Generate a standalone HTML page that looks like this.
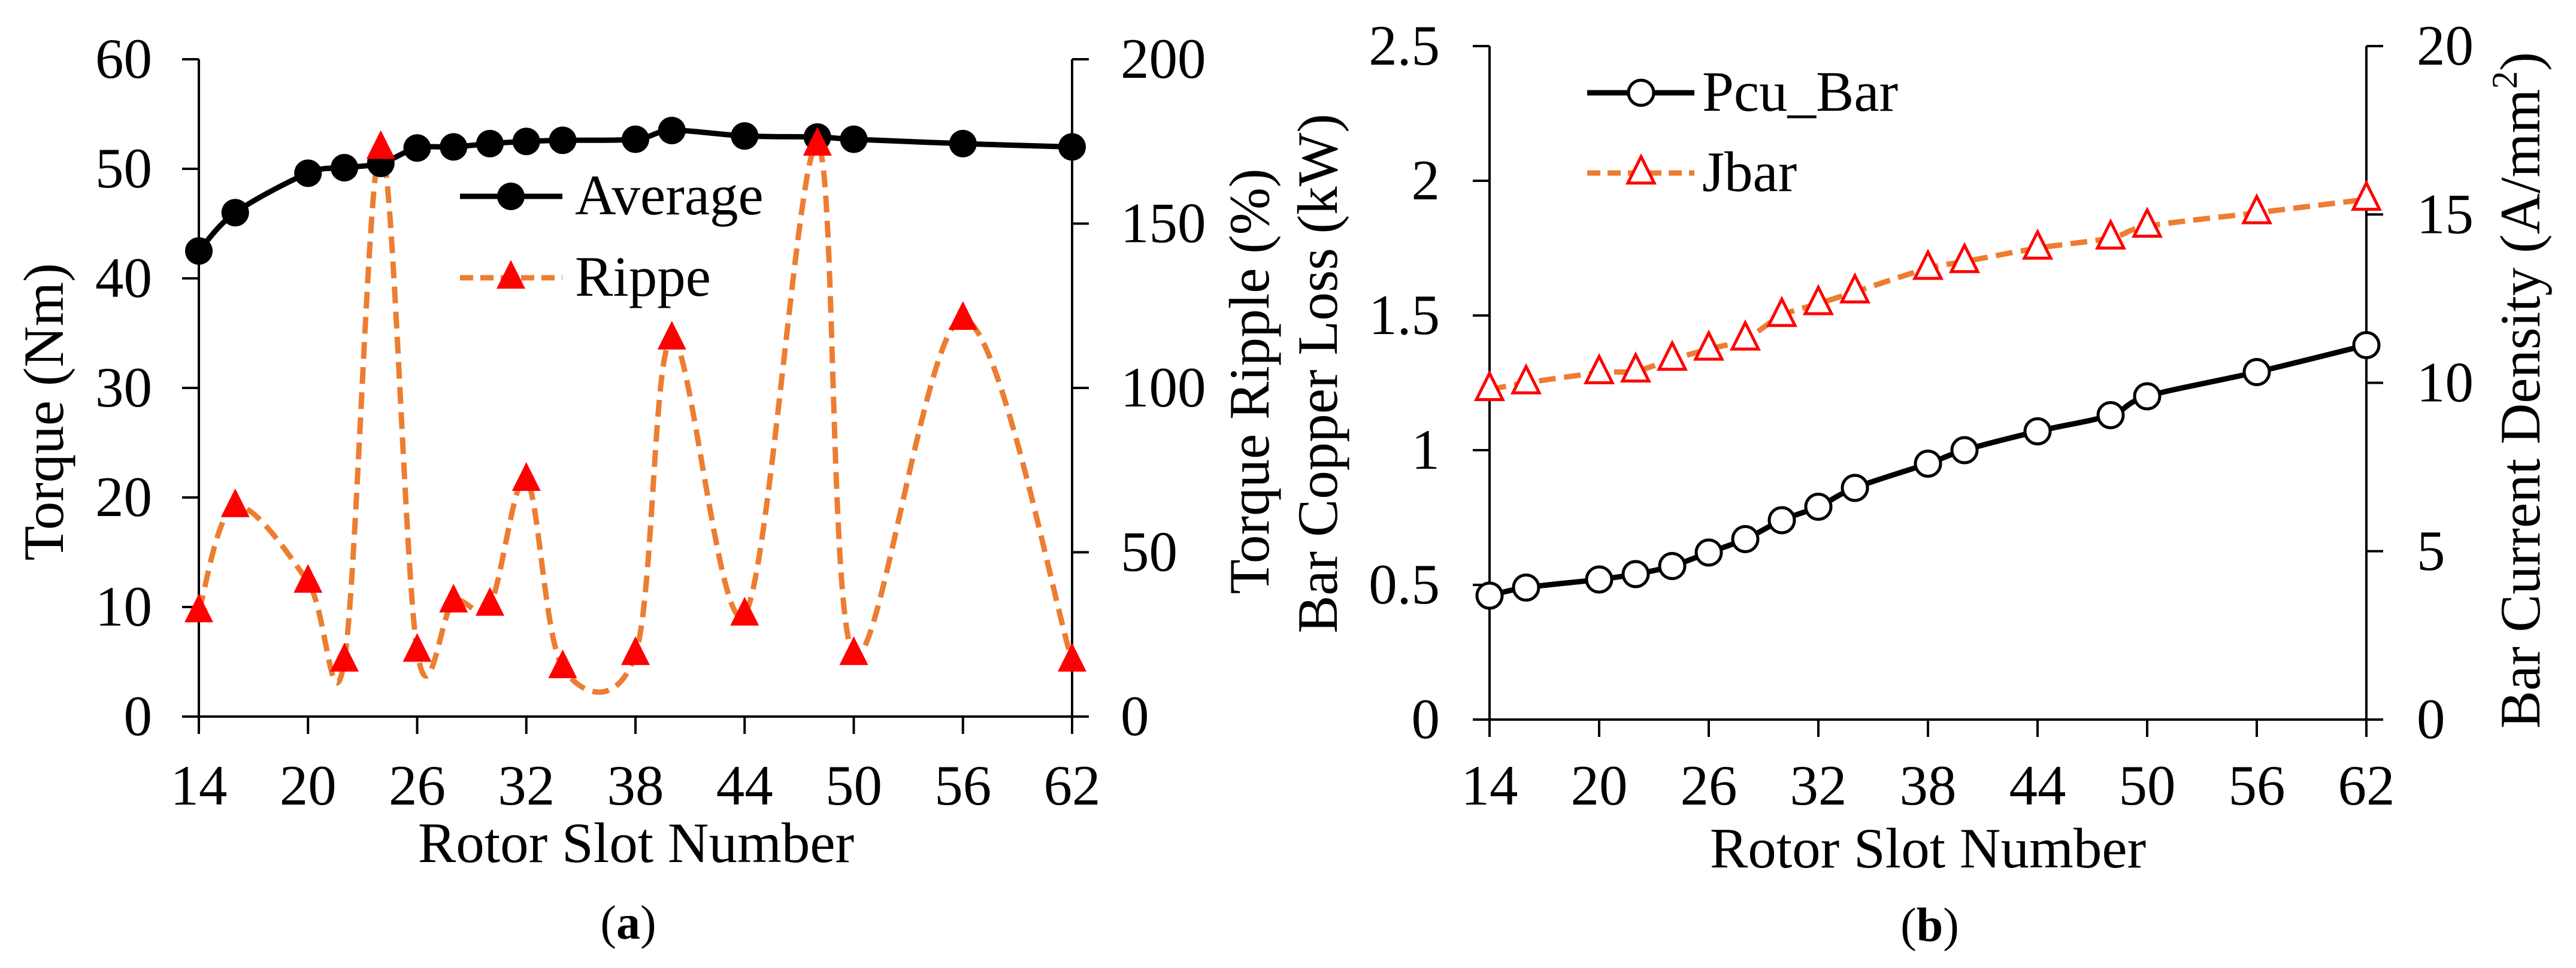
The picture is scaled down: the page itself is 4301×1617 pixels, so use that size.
<!DOCTYPE html>
<html><head><meta charset="utf-8"><style>
html,body{margin:0;padding:0;background:#fff}
svg{display:block;font-family:"Liberation Serif",serif}
svg text,svg tspan{font-family:"Liberation Serif",serif;fill:#000}
</style></head><body>
<svg id="fig" width="4301" height="1617" viewBox="0 0 4301 1617" xmlns="http://www.w3.org/2000/svg" font-family="Liberation Serif, serif">
<g id="chartA"></g>
<g id="chartB"></g>
</svg>
<script>
const slots = [14,16,20,22,24,26,28,30,32,34,38,40,44,48,50,56,62];
const avgTorque = [42.5,46,49.6,50.1,50.5,51.9,52,52.3,52.5,52.6,52.7,53.5,53.0,52.9,52.7,52.3,52.0];
const ripple = [32,64,41,17,173,20,35,34,72,15,19,115,31,174,19,121,17];
const pcuBar = [0.46,0.49,0.52,0.54,0.57,0.62,0.67,0.74,0.79,0.86,0.95,1.0,1.07,1.13,1.2,1.29,1.39];
const jBar = [9.8,10.0,10.3,10.35,10.7,11.0,11.3,12.0,12.35,12.7,13.4,13.6,14.0,14.3,14.65,15.05,15.45];
const xTicks = [14,20,26,32,38,44,50,56,62];
const aLeftTicks = [0,10,20,30,40,50,60];
const aRightTicks = [0,50,100,150,200];
const bLeftTicks = [0,0.5,1,1.5,2,2.5];
const bLeftLabels = ["0","0.5","1","1.5","2","2.5"];
const bRightTicks = [0,5,10,15,20];

const NS="http://www.w3.org/2000/svg";
const FF="Liberation Serif, serif";
function mk(parent,tag,attrs,txt){const e=document.createElementNS(NS,tag);for(const k in attrs)e.setAttribute(k,attrs[k]);if(tag==='text')e.setAttribute('font-family',FF);if(txt!==undefined)e.textContent=txt;parent.appendChild(e);return e;}
function lin(d0,d1,r0,r1){return v=>r0+(v-d0)/(d1-d0)*(r1-r0);}
function smooth(pts){let d=`M${pts[0][0]},${pts[0][1]}`;for(let i=0;i<pts.length-1;i++){const p0=pts[Math.max(0,i-1)],p1=pts[i],p2=pts[i+1],p3=pts[Math.min(pts.length-1,i+2)];const t=1/6;const c1=[p1[0]+(p2[0]-p0[0])*t,p1[1]+(p2[1]-p0[1])*t];const c2=[p2[0]-(p3[0]-p1[0])*t,p2[1]-(p3[1]-p1[1])*t];d+=` C${c1[0]},${c1[1]} ${c2[0]},${c2[1]} ${p2[0]},${p2[1]}`;}return d;}
function tri(g,cx,cy,s,fill,stroke,sw){return mk(g,'polygon',{points:`${cx},${cy-s*0.62} ${cx-s/2},${cy+s*0.38} ${cx+s/2},${cy+s*0.38}`,fill:fill,stroke:stroke,'stroke-width':sw});}

function axes(g,x0,x1,yB,yT,X,yl,yr,ylLabels,yrLabels,lx,rx){
  const ax=mk(g,'path',{d:`M${x0},${yT} V${yB} H${x1} V${yT}`,fill:'none',stroke:'#000','stroke-width':4});
  
  xTicks.forEach(v=>{const x=X(v);
    const t=mk(g,'line',{x1:x,x2:x,y1:yB,y2:yB+29,stroke:'#000','stroke-width':4});
    
    const l=mk(g,'text',{x:x,y:1344,'font-size':95,'text-anchor':'middle'},String(v));
    });
  yl.ticks.forEach((v,i)=>{const y=yl.f(v);
    const t=mk(g,'line',{x1:x0-28,x2:x0,y1:y,y2:y,stroke:'#000','stroke-width':4});
    
    const l=mk(g,'text',{x:lx,y:y+31,'font-size':95,'text-anchor':'end'},ylLabels[i]);
    });
  yr.ticks.forEach((v,i)=>{const y=yr.f(v);
    const t=mk(g,'line',{x1:x1,x2:x1+28,y1:y,y2:y,stroke:'#000','stroke-width':4});
    
    const l=mk(g,'text',{x:rx,y:y+31,'font-size':95,'text-anchor':'start'},yrLabels[i]);
    });
}

// Chart A
(function(){
  const g=document.getElementById('chartA');
  const x0=332,x1=1790,yB=1197,yT=99;
  const X=lin(14,62,x0,x1),YL=lin(0,60,yB,yT),YR=lin(0,200,yB,yT);
  axes(g,x0,x1,yB,yT,X,{ticks:aLeftTicks,f:YL},{ticks:aRightTicks,f:YR},aLeftTicks.map(String),aRightTicks.map(String),254,1871);
  const rp=slots.map((s,i)=>[X(s),YR(ripple[i])]);
  const rl=mk(g,'path',{d:smooth(rp),fill:'none',stroke:'#ED7D31','stroke-width':9,'stroke-dasharray':'28 14'});
  
  const ap=slots.map((s,i)=>[X(s),YL(avgTorque[i])]);
  const al=mk(g,'path',{d:smooth(ap),fill:'none',stroke:'#000','stroke-width':9});
  
  ap.forEach(p=>{const c=mk(g,'circle',{cx:p[0],cy:p[1],r:23,fill:'#000'});
    });
  rp.forEach(p=>{const t=tri(g,p[0],p[1],48,'#FF0000','none',0);
    });
  const lg=mk(g,'g',{});
  mk(lg,'line',{x1:768,x2:939,y1:328,y2:328,stroke:'#000','stroke-width':9});
  mk(lg,'circle',{cx:853,cy:328,r:23,fill:'#000'});
  mk(lg,'text',{x:960,y:358,'font-size':95},'Average');
  mk(lg,'line',{x1:768,x2:939,y1:464,y2:464,stroke:'#ED7D31','stroke-width':9,'stroke-dasharray':'22 12'});
  tri(lg,853,464,48,'#FF0000','none',0);
  mk(lg,'text',{x:960,y:494,'font-size':95},'Rippe');
  const t1=mk(g,'text',{x:0,y:0,'font-size':95,'text-anchor':'middle',transform:'translate(105,688) rotate(-90)'},'Torque (Nm)');
  
  const t2=mk(g,'text',{x:0,y:0,'font-size':95,'text-anchor':'middle',transform:'translate(2118,637) rotate(-90)'},'Torque Ripple (%)');
  
  const t3=mk(g,'text',{x:1062,y:1440,'font-size':95,'text-anchor':'middle'},'Rotor Slot Number');
  
  const t4=mk(g,'text',{x:1049,y:1568,'font-size':80,'text-anchor':'middle'});
  
  t4.innerHTML='(<tspan font-weight="bold">a</tspan>)';
})();

// Chart B
(function(){
  const g=document.getElementById('chartB');
  const x0=2487,x1=3951,yB=1202,yT=77;
  const X=lin(14,62,x0,x1),YL=lin(0,2.5,yB,yT),YR=lin(0,20,yB,yT);
  axes(g,x0,x1,yB,yT,X,{ticks:bLeftTicks,f:YL},{ticks:bRightTicks,f:YR},bLeftLabels,bRightTicks.map(String),2404,4035);
  const jp=slots.map((s,i)=>[X(s),YR(jBar[i])]);
  const jl=mk(g,'path',{d:smooth(jp),fill:'none',stroke:'#ED7D31','stroke-width':9,'stroke-dasharray':'28 14'});
  
  const pp=slots.map((s,i)=>[X(s),YL(pcuBar[i])]);
  const pl=mk(g,'path',{d:smooth(pp),fill:'none',stroke:'#000','stroke-width':9});
  
  pp.forEach(p=>{const c=mk(g,'circle',{cx:p[0],cy:p[1],r:21,fill:'#fff',stroke:'#000','stroke-width':5});
    });
  jp.forEach(p=>{const t=tri(g,p[0],p[1],44,'#fff','#FF0000',5);
    });
  const lg=mk(g,'g',{});
  mk(lg,'line',{x1:2650,x2:2829,y1:155,y2:155,stroke:'#000','stroke-width':9});
  mk(lg,'circle',{cx:2740,cy:155,r:21,fill:'#fff',stroke:'#000','stroke-width':5});
  mk(lg,'text',{x:2842,y:185,'font-size':95},'Pcu_Bar');
  mk(lg,'line',{x1:2650,x2:2829,y1:289,y2:289,stroke:'#ED7D31','stroke-width':9,'stroke-dasharray':'22 12'});
  tri(lg,2740,289,44,'#fff','#FF0000',5);
  mk(lg,'text',{x:2842,y:319,'font-size':95},'Jbar');
  const t1=mk(g,'text',{x:0,y:0,'font-size':95,'text-anchor':'middle',transform:'translate(2232,624) rotate(-90)'},'Bar Copper Loss (kW)');
  
  const t2=mk(g,'text',{x:0,y:0,'font-size':95,'text-anchor':'middle',transform:'translate(4240,652) rotate(-90)'});
  
  t2.innerHTML='Bar Current Density (A/mm<tspan font-size="60" dy="-38">2</tspan><tspan dy="38">)</tspan>';
  const t3=mk(g,'text',{x:3219,y:1449,'font-size':95,'text-anchor':'middle'},'Rotor Slot Number');
  
  const t4=mk(g,'text',{x:3222,y:1572,'font-size':80,'text-anchor':'middle'});
  
  t4.innerHTML='(<tspan font-weight="bold">b</tspan>)';
})();
</script>
</body></html>
